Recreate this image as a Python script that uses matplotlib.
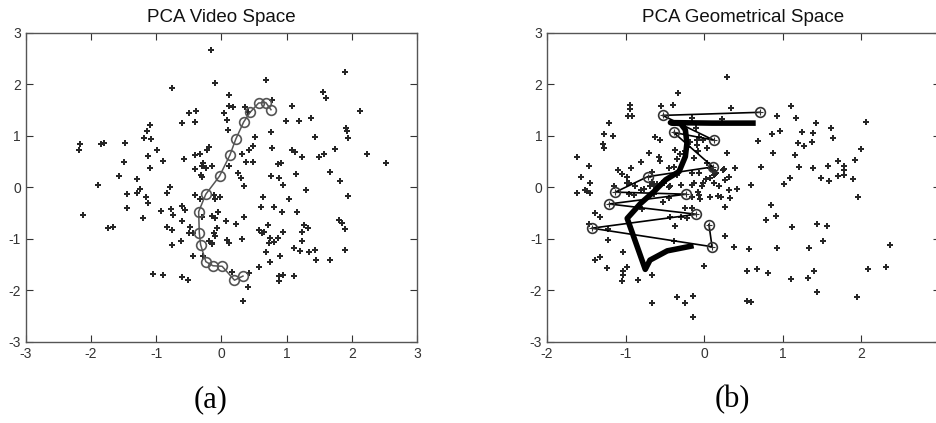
"""PCA video space vs. geometrical space scatter panels."""

import matplotlib.pyplot as plt

# ---- (a) PCA video space --------------------------------------------------
video_x = [
    -0.16, -0.10, -0.76, -0.39, -0.50, -0.61, -0.40, -1.09, -1.14, -1.19, -1.08, -2.17,
    -2.19, -1.85, -1.80, -1.48, -0.99, -0.19, -0.22, -0.33, -0.41, -1.12, -0.90, -1.49,
    -0.57, -0.28, -0.30, -0.14, -0.41, -0.31, -1.10, -1.57, -1.30, -1.90, -1.25, -1.45,
    -1.30, -0.84, -0.79, -1.16,
    -2.12, -1.74, -1.66, -1.45, -1.12, -1.21, -0.93, -0.74, -0.78, -0.83, -0.76, -0.76,
    -0.61, -0.56, -0.61, -0.62, -0.48, -0.50, -0.43, -0.44, -1.05, -0.89, -0.60, -0.52,
    -0.41, -0.33, -0.12, -0.10, -0.30, -0.14, -0.12, -0.19, -0.14, -0.29, -0.05, -0.07,
    -0.02, -0.10, 0.07, 0.22, 0.35, 0.34, -0.10, -0.15, 0.08, 0.11, 0.32, 0.16,
    0.43, 0.41, 0.33, 0.58, 0.63, 0.60, 0.81, 0.93, 0.95, 1.04, 1.29, 1.16,
    0.72, 0.58, 0.62, 0.66, 0.74, 0.81, 0.73, 0.94, 0.87, 0.68, 0.75, 0.90,
    0.88, 0.94, 0.88, 1.11, 1.12, 1.21, 1.23, 1.26, 1.33, 1.24, 1.35, 1.44, 1.45,
    1.82, 1.94, 1.80, 1.85, 1.89, 1.89, 1.67,
    0.68, 1.90, 1.56, 1.61, 2.12, 0.12, 0.11, 0.17, 0.36, 0.40, 0.78, 1.08,
    0.99, 1.19, 1.37, 0.04, 0.08, 0.10, 0.76, 0.51, 0.48, 0.43, 0.32, 0.37,
    0.49, 0.77, 1.08, 1.13, 1.24, 1.44, 1.49, 1.58, 1.74, 1.91, 1.93, 1.94,
    2.23, 2.53, 0.86, 0.92, 0.76, 0.88, 1.15, 1.66, 0.12, 0.26, 0.30,
    -0.24, -0.30,
]
video_y = [
    2.67, 2.02, 1.93, 1.49, 1.44, 1.25, 1.28, 1.21, 1.09, 0.97, 0.94, 0.84,
    0.72, 0.84, 0.87, 0.86, 0.73, 0.79, 0.72, 0.65, 0.63, 0.61, 0.52, 0.49,
    0.55, 0.47, 0.42, 0.42, 0.35, 0.24, 0.37, 0.23, 0.17, 0.05, -0.02, -0.13,
    -0.10, -0.10, 0.00, -0.19,
    -0.54, -0.78, -0.76, -0.39, -0.30, -0.59, -0.45, -0.54, -0.42, -0.76, -0.83, -1.12,
    -0.35, -0.44, -0.66, -1.03, -0.76, -0.88, -0.88, -1.33, -1.68, -1.70, -1.73, -1.80,
    -0.15, -0.23, -0.15, -0.22, -0.57, -0.55, -0.88, -1.04, -1.09, -1.33, -0.47, -0.79,
    -0.18, -0.60, -0.66, -0.70, -0.57, 0.03, -0.94, -1.07, -1.01, -1.07, -1.00, -1.64,
    -1.66, -1.93, -2.21, -1.55, -0.19, -0.37, -0.37, -0.48, 0.05, -0.23, -0.04, -0.47,
    -0.73, -0.83, -0.88, -0.86, -0.98, -1.05, -1.07, -0.86, -0.99, -1.26, -1.44, -1.33,
    -1.72, -1.70, -1.82, -1.72, -1.17, -1.24, -0.87, -0.72, -0.78, -1.03, -1.25, -1.22, -1.41,
    0.13, -0.17, -0.63, -0.68, -0.80, -1.22, -1.40,
    2.08, 2.25, 1.86, 1.74, 1.49, 1.79, 1.59, 1.57, 1.56, 1.46, 1.70, 1.59,
    1.30, 1.30, 1.35, 1.44, 1.31, 1.12, 1.07, 0.98, 0.81, 0.72, 0.65, 0.50,
    0.50, 0.76, 0.73, 0.68, 0.60, 0.98, 0.60, 0.65, 0.74, 1.16, 1.10, 0.97,
    0.66, 0.47, 0.46, 0.47, 0.22, 0.18, 0.26, 0.30, 0.42, 0.28, 0.19,
    0.38, 0.20,
]

# trajectory through the video space
video_path_x = [0.33, 0.20, 0.01, -0.13, -0.24, -0.32, -0.34, -0.35, -0.24, -0.03,
                0.13, 0.22, 0.34, 0.44, 0.57, 0.68, 0.76]
video_path_y = [-1.72, -1.80, -1.53, -1.52, -1.44, -1.11, -0.88, -0.47, -0.13, 0.22,
                0.63, 0.94, 1.27, 1.46, 1.64, 1.65, 1.51]

# ---- (b) PCA geometrical space --------------------------------------------
geo_x = [
    -0.33, -0.55, -0.40, -0.94, -0.95, -0.97, -0.92, -1.21, -1.27, -1.16, -1.29, -1.28,
    -0.62, -0.56, -1.62, -1.47, -1.57, -1.45, -1.52, -1.45, -1.62, -1.10, -1.05, -0.98,
    -0.93, -0.81, -0.70, -0.58, -0.56, -0.98, -1.15, -0.66, -0.67, -0.60, -0.54, -0.45,
    -0.39, -0.31, -0.25, -0.16, -0.10, -0.07, -0.01, -0.09, -0.08, -0.16, 0.04, 0.08,
    0.11, 0.15, -0.13, -0.02, 0.12, -0.08, -0.15, 0.08,
    0.29, 0.34, 0.23, 1.10, 0.92, 1.17, 1.42, 1.61, 2.06, 0.97, 0.86, 1.24,
    1.38, 1.64, 1.19, 1.27, 1.37, 0.69, 0.29, 0.88, 1.16, 1.99, 1.92, 1.70,
    0.72, 0.39, 0.24, 1.21, 1.38, 1.57, 1.78, 1.78, 1.78, 1.70, 1.89, 1.49,
    1.59, 1.09, 1.02, 0.59, 0.42, 0.32, 0.27, 0.14, 0.08, 0.19, 0.21, 0.33,
    1.96, -0.03,
    -0.05, 0.26, 0.85, 0.91, 0.78, 1.12, 1.43, 1.56, 1.51, 0.27, 0.38, 0.57,
    0.92, 1.33, 2.36, 0.00, 0.54, 0.67, 0.81, 1.10, 1.32, 1.40, 1.43, 0.55,
    0.60, 1.95, 2.08, 2.31,
    -1.49, -0.96, -0.88, -0.77, -1.39, -1.33, -1.47, -1.23, -1.23, -1.03, -1.32, -1.39,
    -0.98, -1.03, -1.03, -1.05, -1.24, -0.84, -0.66, -0.66, -0.34, -0.24, -0.14, -0.14,
    -0.39, -0.37, -0.44, -0.30, -0.22, -0.52, -0.45, -0.51, -0.30, -0.16, -0.06, 0.17,
    -0.79, -0.96, -0.89, -0.81, -0.64, -0.64,
    -0.24, -0.15,
    -0.09, -0.18, -0.21, 0.03, -0.37, -0.34, -0.45, -0.34, -0.69, -0.56, -0.43, -0.07,
    -0.13, 0.02, 0.12, 0.25, 0.31,
]
geo_y = [
    1.83, 1.59, 1.60, 1.60, 1.53, 1.39, 1.39, 1.26, 1.03, 1.00, 0.84, 0.77,
    0.99, 0.92, 0.60, 0.42, 0.21, 0.08, -0.04, -0.10, -0.10, 0.33, 0.26, 0.21,
    0.37, 0.50, 0.67, 0.60, 0.52, 0.09, 0.03, 0.30, 0.11, 0.07, 0.09, 0.00,
    0.40, 0.65, 0.71, 1.35, 1.16, 0.99, 0.92, 0.83, 0.70, 0.28, 0.47, 0.37,
    0.34, 0.28, 0.08, 0.09, 0.08, -0.09, -0.18, -0.18,
    2.14, 1.54, 1.33, 1.59, 1.38, 1.35, 1.25, 1.15, 1.28, 1.10, 1.03, 1.07,
    1.05, 0.96, 0.86, 0.81, 0.88, 0.91, 0.67, 0.67, 0.63, 0.75, 0.54, 0.52,
    0.40, 0.37, 0.34, 0.39, 0.37, 0.42, 0.42, 0.34, 0.24, 0.23, 0.16, 0.18,
    0.13, 0.18, 0.07, 0.05, -0.03, -0.05, 0.15, 0.26, 0.18, 0.02, -0.18, -0.21,
    -0.18, 0.02,
    -0.23, -0.37, -0.34, -0.55, -0.64, -0.76, -0.71, -0.74, -1.03, -0.94, -1.16, -1.20,
    -1.18, -1.18, -1.12, -1.52, -1.62, -1.59, -1.66, -1.78, -1.75, -1.62, -2.03, -2.21,
    -2.22, -2.12, -1.59, -1.55,
    -0.06, 0.08, 0.02, -0.02, -0.50, -0.57, -0.70, -0.81, -1.01, -1.25, -1.35, -1.40,
    -1.54, -1.62, -1.70, -1.82, -1.57, -1.80, -1.70, -2.24, -2.12, -2.24, -2.10, -2.52,
    -1.03, -0.75, -0.57, -0.57, -0.59, -0.28, -0.21, 0.08, 0.05, 0.04, -0.15, -0.17,
    -0.42, -0.13, -0.15, -0.05, -0.13, 0.02,
    -0.39, -0.40,
    0.92, 0.89, 0.78, 0.76, 0.73, 0.55, 0.37, 0.24, 0.03, 0.05, 0.02, 0.28,
    0.57, 0.17, 0.24, 0.35, 0.20,
]

# thick recovered curve
curve_x = [-0.17, -0.47, -0.69, -0.75, -0.98, -0.81, -0.64, -0.49, -0.32, -0.24,
           -0.22, -0.24, -0.30, -0.43, 0.10, 0.62]
curve_y = [-1.14, -1.23, -1.41, -1.59, -0.60, -0.31, -0.08, 0.15, 0.31, 0.60,
           0.86, 1.12, 1.24, 1.26, 1.25, 1.25]

# thin path through the circled samples
samples_x = [0.71, -0.53, 0.12, -0.39, 0.11, -0.72, -1.13, -0.23, -1.21, -0.10, -1.43, 0.10, 0.06]
samples_y = [1.46, 1.40, 0.92, 1.07, 0.40, 0.21, -0.09, -0.13, -0.32, -0.52, -0.79, -1.15, -0.72]

ticks_a = [-3, -2, -1, 0, 1, 2, 3]
ticks_b = [-2, -1, 0, 1, 2, 3]

plt.rcParams['font.family'] = ['Liberation Sans', 'DejaVu Sans']
plt.rcParams['axes.unicode_minus'] = False

fig = plt.figure(figsize=(9.37, 4.23), dpi=100)
ax_a = fig.add_axes([0.0277, 0.1915, 0.4173, 0.7305])
ax_b = fig.add_axes([0.5838, 0.1915, 0.4194, 0.7305])

DOT = dict(linestyle='none', marker='P', markersize=4.0, color='#262626', markeredgewidth=0)

ax_a.plot(video_x, video_y, **DOT)
ax_a.plot(video_path_x, video_path_y, color='#555555', linewidth=1.1,
          marker='o', markersize=7, markerfacecolor='none', markeredgecolor='#555555',
          markeredgewidth=1.2)

ax_b.plot(geo_x, geo_y, **DOT)
ax_b.plot(samples_x, samples_y, color='black', linewidth=1.2)
ax_b.plot(samples_x, samples_y, linestyle='none', marker='o', markersize=7,
          markerfacecolor='none', markeredgecolor='#333333', markeredgewidth=1.2)
ax_b.plot(samples_x, samples_y, linestyle='none', marker='+', markersize=5,
          color='#333333', markeredgewidth=0.8)
ax_b.plot(curve_x, curve_y, color='black', linewidth=4, solid_joinstyle='round')

for ax, xt, title in ((ax_a, ticks_a, 'PCA Video Space'), (ax_b, ticks_b, 'PCA Geometrical Space')):
    ax.set_xlim(xt[0], xt[-1])
    ax.set_ylim(-3, 3)
    ax.set_xticks(xt)
    ax.set_yticks(ticks_a)
    ax.tick_params(direction='in', length=5, width=0.8, top=True, right=True,
                   labelsize=10, colors='#333333', labelcolor='#333333')
    for spine in ax.spines.values():
        spine.set_color('#555555')
        spine.set_linewidth(1.0)
    ax.set_title(title, fontsize=13.5, pad=8, color='#111111')

fig.text(0.225, 0.055, '(a)', fontsize=22, family='Liberation Serif', ha='center', va='center')
fig.text(0.782, 0.055, '(b)', fontsize=22, family='Liberation Serif', ha='center', va='center')

fig.savefig('out.png', dpi=100)
plt.close(fig)
